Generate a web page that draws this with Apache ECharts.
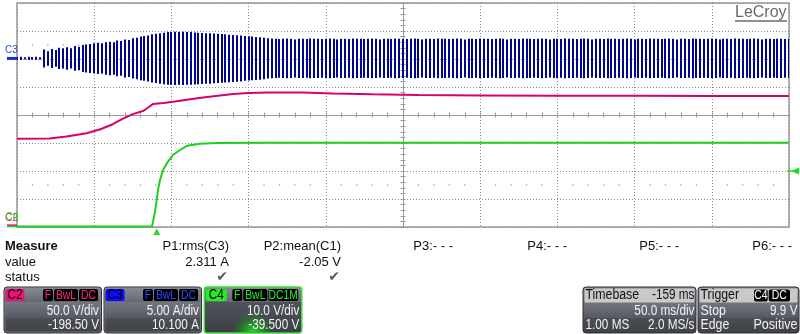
<!DOCTYPE html>
<html><head><meta charset="utf-8">
<script src="https://cdn.jsdelivr.net/npm/echarts@6/dist/echarts.min.js"></script>
<style>html,body{margin:0;padding:0;background:#fff}#c{width:800px;height:334px}</style>
</head><body><div id="c"></div>
<script>
// ---------------- data ----------------
// C3 current: peak amplitude (A) of each oscillation bar, one bar every c3PitchMs of screen time
const c3PitchMs = 2.5;
const c3Amp = [
  0.25,0.3,0.2,0.3,0.25,0.3,0.2,
  1.6,1.3,1.7,1.5,1.9,1.8,
  2.0,1.8,2.2,2.1,
  2.4,2.5,2.6,2.7,2.8,2.7,
  2.9,3.0,2.9,3.2,
  3.1,3.4,3.3,3.6,3.7,3.9,4.0,
  4.1,4.3,4.4,4.5,4.6,4.7,4.7,
  4.75,4.7,4.75,4.7,4.7,4.65,4.6,4.55,4.5,
  4.5,4.45,4.4,4.35,4.3,4.25,4.2,4.15,
  4.1,4.0,3.95,3.9,3.85,3.8,3.7,3.6,3.55,
  3.5,3.45,3.5,3.55,3.5,3.4,3.5,3.5,3.45,3.55,
  3.5,3.5,3.45,3.5,3.55,3.5,3.4,3.5,3.5,3.45,
  3.55,3.5,3.5,3.45,3.5,3.55,3.5,3.4,3.5,3.5,
  3.45,3.55,3.5,3.5,3.45,3.5,3.55,3.5,3.4,3.5,
  3.5,3.45,3.55,3.5,3.5,3.45,3.5,3.55,3.5,3.4,
  3.5,3.5,3.45,3.55,3.5,3.5,3.45,3.5,3.55,3.5,
  3.4,3.5,3.5,3.45,3.55,3.5,3.5,3.45,3.5,3.55,
  3.5,3.4,3.5,3.5,3.45,3.55,3.5,3.5,3.45,3.5,
  3.55,3.5,3.4,3.5,3.5,3.45,3.55,3.5,3.5,3.45,
  3.5,3.55,3.5,3.4,3.5,3.5,3.45,3.55,3.5,3.5,
  3.45,3.5,3.55,3.5,3.4,3.5,3.5,3.45,3.55,3.5,
  3.5,3.45,3.5,3.55,3.5,3.4,3.5,3.5,3.45,3.55,
  3.5,3.5,3.45,3.5,3.55,3.5,3.4,3.5,3.5,3.45,
  3.5,3.5,3.45,3.5
];
// C2 voltage (V) vs screen time (ms)
const c2Time = [0,21,32,45,54,62,68,75,82,85,88,95,101,118,130,140,150,162,185,205,230,260,300,350,400,450,500];
const c2Volt = [156,156.5,160,166,173,182,191,200,206,212,218,220,222,229,233,236,238,238.5,238.5,237,235.5,234,233.5,233,233,232.5,232.5];
// C4 voltage (V) vs screen time (ms)
const c4Time = [0,87.4,88.3,89.5,90.5,91.3,92.6,94.6,97.2,101,105.6,110.1,118.5,129.5,160,500];
const c4Volt = [-0.3,-0.3,2.0,5.5,9.1,12.7,16.3,19.9,22.4,25.2,27.0,28.5,29.2,29.5,29.6,29.6];
const triggerTimeMs = 90.5;
const triggerLevelDiv = -2;
// vertical settings: units per division and value shown at screen centre
const c3PerDiv = 5, c3Center = -10.1;
const c2PerDiv = 50, c2Center = 198.5;
const c4PerDiv = 10, c4Center = 39.5;
// measure table
const measureHeads = ['P1:rms(C3)','P2:mean(C1)','P3:- - -','P4:- - -','P5:- - -','P6:- - -'];
const measureValues = ['2.311 A','-2.05 V','','','',''];
const measureOk = [true,true,false,false,false,false];
// channel descriptor boxes
const chNames = ['C2','C3','C4'];
const chScaleText = ['50.0 V/div','5.00 A/div','10.0 V/div'];
const chOffsetText = ['-198.50 V','10.100 A','-39.500 V'];
const chCoupling = [['F','BwL','DC'],['F','BwL','DC'],['F','BwL','DC1M']];
const timebaseText = ['Timebase','-159 ms','50.0 ms/div','1.00 MS','2.0 MS/s'];
const triggerText = ['Trigger','C4','DC','Stop','9.9 V','Edge','Positive'];

// ---------------- chart ----------------
const REG = '"Liberation Sans",Arial,sans-serif';
const GRIDC = '#9a9a9a';
const chart = echarts.init(document.getElementById('c'), null, {renderer: 'canvas'});

function divAxis(min, max, inside, split) {
  return {
    type: 'value', min: min, max: max, interval: 1,
    axisLine: {show: true, onZero: true, onZeroAxisIndex: 0, lineStyle: {color: GRIDC, width: 1}},
    axisTick: {show: true, inside: inside, length: 2.5, lineStyle: {color: GRIDC}},
    minorTick: {show: true, splitNumber: 5, length: 2.5, lineStyle: {color: GRIDC}},
    axisLabel: {show: false},
    splitLine: {show: split, lineStyle: {color: '#8c8c8c', type: [1, 2], width: 1}},
    z: 1
  };
}
const dots = [];
for (let k = -24; k <= 24; k++) { if (k % 5 !== 0) { dots.push([k / 5, 2.5]); dots.push([k / 5, -2.5]); } }

const c3Data = c3Amp.map((a, i) => [i * c3PitchMs, -a, a]);

chart.setOption({
  animation: false,
  backgroundColor: '#ffffff',
  grid: {left: 17, top: 3, right: 11, bottom: 107, show: true, borderColor: '#999', borderWidth: 1.5, backgroundColor: 'transparent'},
  xAxis: [
    Object.assign(divAxis(-5, 5, true, true), {position: 'bottom'}),
    Object.assign(divAxis(-5, 5, false, false), {position: 'bottom'}),
    {type: 'value', min: 0, max: 500, show: false}
  ],
  yAxis: [
    Object.assign(divAxis(-4, 4, true, true), {position: 'left'}),
    Object.assign(divAxis(-4, 4, false, false), {position: 'left'}),
    {type: 'value', min: c3Center - 4 * c3PerDiv, max: c3Center + 4 * c3PerDiv, show: false},
    {type: 'value', min: c2Center - 4 * c2PerDiv, max: c2Center + 4 * c2PerDiv, show: false},
    {type: 'value', min: c4Center - 4 * c4PerDiv, max: c4Center + 4 * c4PerDiv, show: false}
  ],
  series: [
    {type: 'scatter', xAxisIndex: 0, yAxisIndex: 0, data: dots, symbolSize: 1.5, itemStyle: {color: '#808080'}, silent: true, z: 1},
    {type: 'custom', name: 'C3', xAxisIndex: 2, yAxisIndex: 2, data: c3Data, clip: true, z: 3,
      renderItem: function (params, api) {
        const top = api.coord([api.value(0), api.value(2)]);
        const bot = api.coord([api.value(0), api.value(1)]);
        return {type: 'rect', shape: {x: Math.round(top[0]) - 1, y: top[1], width: 2, height: bot[1] - top[1]},
          style: {fill: '#00068f'}};
      }},
    {type: 'line', name: 'C2', xAxisIndex: 2, yAxisIndex: 3, data: c2Time.map((t, i) => [t, c2Volt[i]]),
      showSymbol: false, lineStyle: {color: '#d8006c', width: 2}, z: 4},
    {type: 'line', name: 'C4', xAxisIndex: 2, yAxisIndex: 4, data: c4Time.map((t, i) => [t, c4Volt[i]]),
      showSymbol: false, lineStyle: {color: '#1fcf1f', width: 2}, z: 5}
  ]
});

// ---------------- decorations ----------------
const g = [];
function txt(x, y, s, fill, font, align, sx) {
  g.push({type: 'text', x: x, y: y, scaleX: sx || 1,
    style: {text: s, fill: fill, font: font, align: align || 'left', verticalAlign: 'middle'}, z: 20});
}
function rect(x, y, w, h, fill, stroke, lw, r, z) {
  g.push({type: 'rect', shape: {x: x, y: y, width: w, height: h, r: r || 0}, style: {fill: fill, stroke: stroke || null, lineWidth: lw || 0}, z: z || 10});
}
const BOXF = '14px ' + REG, BOXS = 0.84;
const TAGF = '13px ' + REG, TAGS = 0.8;
// trigger markers from axes
const trigX = chart.convertToPixel({xAxisIndex: 2}, triggerTimeMs);
const gridBottom = chart.convertToPixel({yAxisIndex: 0}, -4);
const trigY = chart.convertToPixel({yAxisIndex: 0}, triggerLevelDiv);
const gridRight = chart.convertToPixel({xAxisIndex: 0}, 5);
g.push({type: 'polygon', shape: {points: [[trigX, gridBottom + 1.5], [trigX - 3.5, gridBottom + 8], [trigX + 3.5, gridBottom + 8]]}, style: {fill: '#1fdc1f'}, z: 20});
g.push({type: 'polygon', shape: {points: [[gridRight + 2, trigY], [gridRight + 10, trigY - 3.5], [gridRight + 10, trigY + 3.5]]}, style: {fill: '#1fdc1f'}, z: 20});
g.push({type: 'line', shape: {x1: gridRight - 2, y1: trigY, x2: gridRight + 4, y2: trigY}, style: {stroke: '#1fdc1f', lineWidth: 1.5}, z: 20});
// channel ground markers
const c3Zero = chart.convertToPixel({yAxisIndex: 2}, 0);
const c2Zero = chart.convertToPixel({yAxisIndex: 3}, 0);
const c4Zero = chart.convertToPixel({yAxisIndex: 4}, 0);
g.push({type: 'line', shape: {x1: 7, y1: c3Zero, x2: 17, y2: c3Zero}, style: {stroke: '#1030d8', lineWidth: 3}, z: 20});
txt(5, c3Zero - 8, 'C3', '#2050e8', '10px ' + REG);
g.push({type: 'line', shape: {x1: 7, y1: c2Zero - 1, x2: 17, y2: c2Zero - 1}, style: {stroke: '#e0007a', lineWidth: 1.5}, z: 20});
g.push({type: 'line', shape: {x1: 7, y1: c4Zero + 1, x2: 17, y2: c4Zero + 1}, style: {stroke: '#22dd22', lineWidth: 1.5}, z: 20});
txt(5, c2Zero - 7.5, 'C2', '#e0007a', '10px ' + REG);
txt(5.5, c4Zero - 8, 'C4', '#22dd22', '10px ' + REG);
// LeCroy logo
txt(735, 12.5, 'LeCroy', '#6a6a6a', '16px ' + REG);
g.push({type: 'line', shape: {x1: 735, y1: 21, x2: 787, y2: 21}, style: {stroke: '#6a6a6a', lineWidth: 1.5}, z: 20});
// measure table
const colRight = [229, 341, 453, 567, 679, 792];
txt(5, 246, 'Measure', '#111', 'bold 13px ' + REG);
txt(5, 262, 'value', '#111', '13px ' + REG);
txt(5, 277, 'status', '#111', '13px ' + REG);
measureHeads.forEach((h, i) => {
  txt(colRight[i], 246, h, '#111', '13px ' + REG, 'right');
  if (measureValues[i]) txt(colRight[i], 262, measureValues[i], '#111', '13px ' + REG, 'right');
  if (measureOk[i]) txt(colRight[i] - 1, 277.5, '\u2714', '#5a5a5a', '14px "DejaVu Sans",sans-serif', 'right');
});
// boxes
const boxGrad = {type: 'linear', x: 0, y: 0, x2: 0, y2: 1, colorStops: [
  {offset: 0, color: '#8a8d97'}, {offset: 0.33, color: '#666973'},
  {offset: 0.34, color: '#737680'}, {offset: 0.66, color: '#575a63'},
  {offset: 0.67, color: '#4c4e56'}, {offset: 1, color: '#3f4148'}]};
const chBoxX = [4, 104, 204.3];
const chLabelBg = ['#f0107a', '#0a0aff', '#22ee22'];
const chTagColor = ['#ff2585', '#2a48ff', '#22ee22'];
const chLabelW = [19, 19, 21];
const tagW = {'F': 10, 'BwL': 24, 'DC': 19, 'DC1M': 30};
chNames.forEach((nm, i) => {
  const x = chBoxX[i], w = 97.5, y = 287, h = 46;
  if (i === 2) {
    rect(x, y, w, h, {type: 'linear', x: 0, y: 0, x2: 0, y2: 1, colorStops: [
      {offset: 0, color: '#8a8d97'}, {offset: 0.33, color: '#666973'},
      {offset: 0.34, color: '#50535a'}, {offset: 1, color: '#3c3e44'}]}, '#3ddc3d', 1.5, 3, 10);
    rect(x + 1, y + 15, w - 2, h - 16, {type: 'radial', x: 0.5, y: 1.05, r: 0.75, colorStops: [
      {offset: 0, color: 'rgba(40,230,40,1)'}, {offset: 0.5, color: 'rgba(30,170,30,0.6)'}, {offset: 1, color: 'rgba(30,120,30,0)'}]}, null, 0, 2, 11);
  } else {
    rect(x, y, w, h, boxGrad, '#2e2e2e', 1, 3, 10);
    rect(x + 1, y + 1, w - 2, h - 2, 'transparent', '#8a8a8a', 0.6, 2, 11);
  }
  rect(x + 1.5, y + 2, chLabelW[i], 12, chLabelBg[i], null, 0, 2, 12);
  txt(x + 1.5 + chLabelW[i] / 2, y + 8.5, nm, '#000', BOXF, 'center', BOXS);
  let xr = x + w - 3.5;
  chCoupling[i].slice().reverse().forEach(t => {
    const tw = tagW[t];
    rect(xr - tw, y + 2, tw, 12, '#000', null, 0, 2, 12);
    txt(xr - tw / 2, y + 8.5, t, chTagColor[i], TAGF, 'center', TAGS);
    xr -= tw + 1;
  });
  txt(x + w - 2.5, y + 24, chScaleText[i], '#f2f2f2', BOXF, 'right', BOXS);
  txt(x + w - 2.5, y + 38, chOffsetText[i], '#f2f2f2', BOXF, 'right', BOXS);
});
// timebase box
(function () {
  const x = 583, y = 287, w = 113, h = 46;
  rect(x, y, w, h, boxGrad, '#2e2e2e', 1, 3, 10);
  rect(x + 1.5, y + 1.5, w - 3, 14, '#c9c9c9', null, 0, 1, 11);
  txt(x + 2.5, y + 8.5, timebaseText[0], '#111', BOXF, 'left', 0.88);
  txt(x + w - 1.5, y + 8.5, timebaseText[1], '#111', BOXF, 'right', BOXS);
  txt(x + w - 1.5, y + 24, timebaseText[2], '#f2f2f2', BOXF, 'right', BOXS);
  txt(x + 2.5, y + 38, timebaseText[3], '#f2f2f2', BOXF, 'left', BOXS);
  txt(x + w - 1.5, y + 38, timebaseText[4], '#f2f2f2', BOXF, 'right', BOXS);
})();
// trigger box
(function () {
  const x = 698, y = 287, w = 101, h = 46;
  rect(x, y, w, h, boxGrad, '#2e2e2e', 1, 3, 10);
  rect(x + 1.5, y + 1.5, w - 3, 14, '#c9c9c9', null, 0, 1, 11);
  txt(x + 2.5, y + 8.5, triggerText[0], '#111', BOXF, 'left', 0.88);
  rect(754, y + 2.5, 13.7, 12, '#000', null, 0, 2, 12);
  txt(754 + 6.85, y + 8.5, triggerText[1], '#fff', TAGF, 'center', TAGS);
  rect(768.7, y + 2.5, 21.3, 12, '#000', null, 0, 2, 12);
  txt(768.7 + 10.65, y + 8.5, triggerText[2], '#fff', TAGF, 'center', TAGS);
  txt(x + 2.5, y + 24, triggerText[3], '#f2f2f2', BOXF, 'left', 0.88);
  txt(x + w - 1.5, y + 24, triggerText[4], '#f2f2f2', BOXF, 'right', BOXS);
  txt(x + 2.5, y + 38, triggerText[5], '#f2f2f2', BOXF, 'left', 0.88);
  txt(x + w - 1.5, y + 38, triggerText[6], '#f2f2f2', BOXF, 'right', 0.9);
})();
chart.setOption({graphic: g});
</script>
</body></html>
